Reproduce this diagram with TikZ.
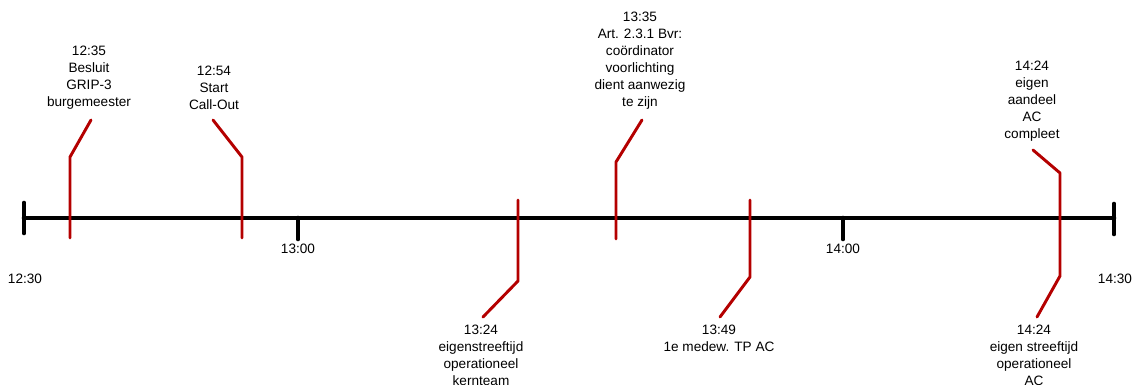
\documentclass[tikz,border=0pt]{standalone}
\usepackage{fontspec}
\setmainfont{Liberation Sans}
\definecolor{markred}{RGB}{180,0,0}
\begin{document}
\begin{tikzpicture}[x=0.75pt,y=-0.75pt,
  axisline/.style={line width=3.5pt,line cap=round},
  marker/.style={draw=markred,line width=2.2pt,line cap=round,line join=round},
  lbl/.style={font=\fontsize{10.2}{12.75}\selectfont,align=center,inner sep=0pt},
  ticklbl/.style={font=\fontsize{10.2}{12.75}\selectfont,inner sep=0pt}]
\useasboundingbox (0,0) rectangle (1133,385);
% axis
\coordinate (a0) at (24,218);
\coordinate (a1) at (1114,218);
\coordinate (a0t) at (24,203);
\coordinate (a0b) at (24,233);
\coordinate (a1t) at (1114,204);
\coordinate (a1b) at (1114,234);
\coordinate (t13) at (298,218);
\coordinate (t13b) at (298,239);
\coordinate (t14) at (843,218);
\coordinate (t14b) at (843,239);
\draw[axisline] (a0) -- (a1);
\draw[axisline] (a0t) -- (a0b);
\draw[axisline] (a1t) -- (a1b);
\draw[axisline] (t13) -- (t13b);
\draw[axisline] (t14) -- (t14b);
\node[ticklbl] (l1230) at (25,279) {12:30};
\node[ticklbl] (l1300) at (298,249) {13:00};
\node[ticklbl] (l1400) at (843,249) {14:00};
\node[ticklbl] (l1430) at (1115,279) {14:30};
% markers
\coordinate (m1a) at (91,120);  \coordinate (m1b) at (70,157);  \coordinate (m1c) at (70,238);
\coordinate (m2a) at (213,120); \coordinate (m2b) at (242,157); \coordinate (m2c) at (242,238);
\coordinate (m3a) at (518,200); \coordinate (m3b) at (518,281); \coordinate (m3c) at (483,317);
\coordinate (m4a) at (642,120); \coordinate (m4b) at (616,162); \coordinate (m4c) at (616,239);
\coordinate (m5a) at (750,200); \coordinate (m5b) at (750,277); \coordinate (m5c) at (720,317);
\coordinate (m6a) at (1033,150); \coordinate (m6b) at (1060,173); \coordinate (m6c) at (1060,276); \coordinate (m6d) at (1037,317);
\draw[marker] (m1a) -- (m1b) -- (m1c);
\draw[marker] (m2a) -- (m2b) -- (m2c);
\draw[marker] (m3a) -- (m3b) -- (m3c);
\draw[marker] (m4a) -- (m4b) -- (m4c);
\draw[marker] (m5a) -- (m5b) -- (m5c);
\draw[marker] (m6a) -- (m6b) -- (m6c) -- (m6d);
% labels
\node[lbl,anchor=south] (e1) at (89,110) {12:35\\Besluit\\GRIP-3\\burgemeester};
\node[lbl,anchor=south] (e2) at (214,110) {12:54\\Start\\Call-Out};
\node[lbl,anchor=south] (e4) at (640,110) {13:35\\Art. 2.3.1 Bvr:\\coördinator\\voorlichting\\dient aanwezig\\te zijn};
\node[lbl,anchor=south] (e6) at (1032,142) {14:24\\eigen\\aandeel\\AC\\compleet};
\node[lbl,anchor=north] (e3) at (481,325) {13:24\\eigenstreeftijd\\operationeel\\kernteam};
\node[lbl,anchor=north] (e5) at (719,325) {13:49\\1e medew. TP AC};
\node[lbl,anchor=north] (e7) at (1034,325) {14:24\\eigen streeftijd\\operationeel\\AC};
\end{tikzpicture}
\end{document}
